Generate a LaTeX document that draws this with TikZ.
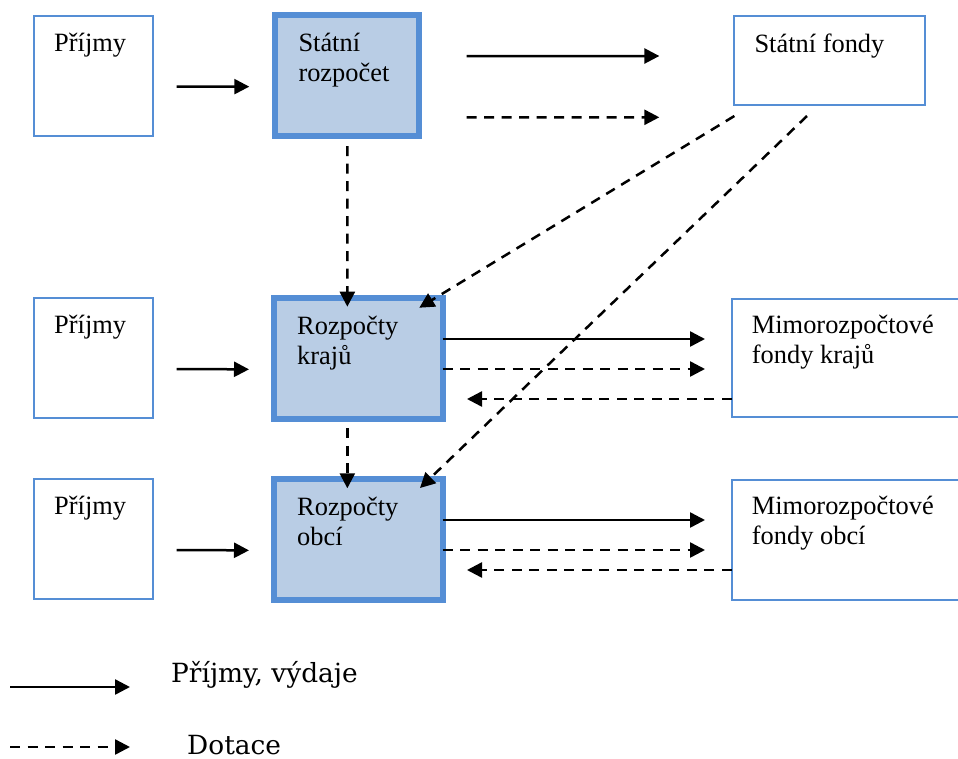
\documentclass[tikz,border=0pt]{standalone}
\usepackage{fontspec}
\newfontfamily\boxfont{Liberation Serif}
\newfontfamily\legfont{DejaVu Serif}
\usetikzlibrary{arrows.meta}
\definecolor{boxline}{RGB}{85,142,213}
\definecolor{boxfill}{RGB}{185,205,229}
\tikzset{
  thinbox/.style={draw=boxline, line width=2pt, fill=white, inner sep=0pt, outer sep=0pt},
  budget/.style={draw=boxline, line width=6pt, fill=boxfill, inner sep=0pt, outer sep=0pt},
  boxtext/.style={anchor=base west, inner sep=0pt, align=left, font=\boxfont\fontsize{26.4}{30}\selectfont},
  legtext/.style={anchor=base west, inner sep=0pt, text depth=0pt, font=\legfont\fontsize{26.4}{32}\selectfont},
  flow/.style={line width=2.5pt, -{Triangle[length=15pt,width=15pt]}},
  grant/.style={flow, dash pattern=on 10pt off 7.5pt}
}
\begin{document}
\begin{tikzpicture}[x=1pt, y=-1pt]
      \path[use as bounding box, clip] (0,0) rectangle (958,758);
      \node[thinbox, minimum width=119pt, minimum height=120pt] (p1) at (93.5,75.5) {};
      \node[thinbox, minimum width=119pt, minimum height=120pt] (p2) at (93.5,358) {};
      \node[thinbox, minimum width=119pt, minimum height=120pt] (p3) at (93.5,539) {};
      \node[budget, minimum width=143.4pt, minimum height=120.7pt] (sr) at (347,75.65) {};
      \node[budget, minimum width=168.7pt, minimum height=120.7pt] (rk) at (358.35,358.35) {};
      \node[budget, minimum width=168.7pt, minimum height=120.7pt] (ro) at (358.35,539.35) {};
      \node[thinbox, minimum width=190.7pt, minimum height=89pt] (sf) at (829.7,60.5) {};
      \node[thinbox, minimum width=238.3pt, minimum height=118pt] (mk) at (850.85,358.35) {};
      \node[thinbox, minimum width=238.3pt, minimum height=120pt] (mo) at (850.85,540) {};
      \node[boxtext] (p1t) at ([xshift=20pt,yshift=-36pt]p1.north west) {Příjmy};
      \node[boxtext] (p2t) at ([xshift=20pt,yshift=-35pt]p2.north west) {Příjmy};
      \node[boxtext] (p3t) at ([xshift=20pt,yshift=-35pt]p3.north west) {Příjmy};
      \node[boxtext] (srt) at ([xshift=23pt,yshift=-66.5pt]sr.north west) {Státní\\rozpočet};
      \node[boxtext] (rkt) at ([xshift=23pt,yshift=-66.5pt]rk.north west) {Rozpočty\\krajů};
      \node[boxtext] (rot) at ([xshift=23pt,yshift=-66.5pt]ro.north west) {Rozpočty\\obcí};
      \node[boxtext] (sft) at ([xshift=20pt,yshift=-36pt]sf.north west) {Státní fondy};
      \node[boxtext] (mkt) at ([xshift=20pt,yshift=-64pt]mk.north west) {Mimorozpočtové\\fondy krajů};
      \node[boxtext] (mot) at ([xshift=20pt,yshift=-64pt]mo.north west) {Mimorozpočtové\\fondy obcí};
      \node[legtext] (lg1) at (171,682) {Příjmy, výdaje};
      \node[legtext] (lg2) at (187,754) {Dotace};
      \begin{scope}[flow]
        \draw ([xshift=23.7pt,yshift=-11pt]p1.east) to ([xshift=-26pt,yshift=-11pt]sr.west);
        \draw ([xshift=23.7pt,yshift=-11pt]p2.east) to ([xshift=-25pt,yshift=-11pt]rk.west);
        \draw ([xshift=23.7pt,yshift=-11pt]p3.east) to ([xshift=-25pt,yshift=-11pt]ro.west);
        \draw ([xshift=48pt,yshift=19.6pt]sr.east) to ([xshift=-75pt,yshift=4.5pt]sf.west);
        \draw ([yshift=19.35pt]rk.east) to ([xshift=-26.7pt,yshift=19.35pt]mk.west);
        \draw ([yshift=19.35pt]ro.east) to ([xshift=-26.7pt,yshift=20pt]mo.west);
        \draw ([xshift=-161pt,yshift=-5pt]lg1.base west) to ([xshift=-41pt,yshift=-5pt]lg1.base west);
      \end{scope}
      \begin{scope}[grant]
        \draw ([xshift=48pt,yshift=-41.6pt]sr.east) to ([xshift=-75pt,yshift=-56.8pt]sf.west);
        \draw ([xshift=0.3pt,yshift=-10pt]sr.south) to ([xshift=-11pt,yshift=-8.7pt]rk.north);
        \draw ([xshift=-11pt,yshift=-9.6pt]rk.south) to ([xshift=-11pt,yshift=-9.3pt]ro.north);
        \draw ([yshift=-11pt]sf.south west) to ([xshift=-23.4pt,yshift=-9.7pt]rk.north east);
        \draw ([xshift=-22.7pt,yshift=-11pt]sf.south) to ([xshift=-22.7pt,yshift=-9pt]ro.north east);
        \draw ([yshift=-10.65pt]rk.east) to ([xshift=-26.7pt,yshift=-10.65pt]mk.west);
        \draw ([yshift=-40.65pt]mk.west) to ([xshift=24.3pt,yshift=-40.65pt]rk.east);
        \draw ([yshift=-10.65pt]ro.east) to ([xshift=-26.7pt,yshift=-10pt]mo.west);
        \draw ([yshift=-30pt]mo.west) to ([xshift=24.3pt,yshift=-30.65pt]ro.east);
        \draw ([xshift=-177pt,yshift=7pt]lg2.base west) to ([xshift=-57pt,yshift=7pt]lg2.base west);
      \end{scope}
\end{tikzpicture}
\end{document}
